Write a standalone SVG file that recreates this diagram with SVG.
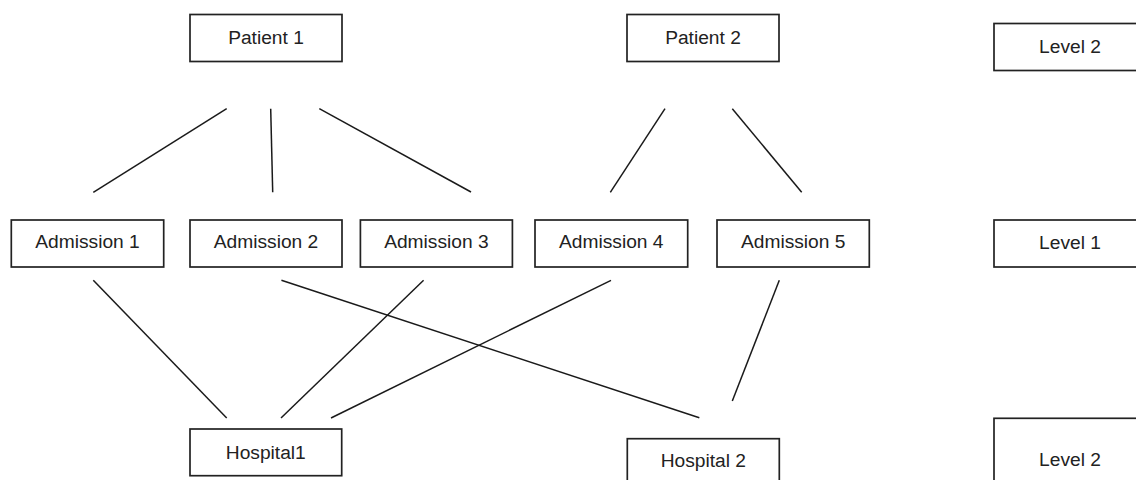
<svg xmlns="http://www.w3.org/2000/svg" width="1136" height="480" viewBox="0 0 1136 480">
<style>
.box{fill:#fff;stroke:#222;stroke-width:1.7}
.lbl{font-family:"Liberation Sans",Arial,sans-serif;font-size:19.2px;fill:#222;text-anchor:middle}
.edge{stroke:#1a1a1a;stroke-width:1.5;fill:none}
</style>
<rect width="1136" height="480" fill="#fff"/>
<g id="connectors">
<line class="edge" x1="226.7" y1="108.7" x2="93.3" y2="192.3"/>
<line class="edge" x1="270.7" y1="108.7" x2="272.7" y2="192.3"/>
<line class="edge" x1="319.3" y1="108.7" x2="471" y2="192"/>
<line class="edge" x1="665" y1="108.7" x2="610.3" y2="192.3"/>
<line class="edge" x1="732.3" y1="108.7" x2="801.7" y2="192.3"/>
<line class="edge" x1="93.3" y1="280.3" x2="226.7" y2="418"/>
<line class="edge" x1="281.4" y1="280.3" x2="699.3" y2="417.7"/>
<line class="edge" x1="423.6" y1="280.3" x2="281" y2="418"/>
<line class="edge" x1="611" y1="280.3" x2="331" y2="418"/>
<line class="edge" x1="779.3" y1="280.3" x2="732.3" y2="401"/>
</g>
<g id="patient1"><rect class="box" x="190" y="14.5" width="152" height="47"/><text class="lbl" x="266" y="43.7">Patient 1</text></g>
<g id="patient2"><rect class="box" x="627" y="14.5" width="152" height="47"/><text class="lbl" x="703" y="43.7">Patient 2</text></g>
<g id="level2top"><rect class="box" x="994" y="23.5" width="152" height="47"/><text class="lbl" x="1070" y="52.5">Level 2</text></g>
<g id="admission1"><rect class="box" x="11.3" y="220" width="152.4" height="47"/><text class="lbl" x="87.5" y="248">Admission 1</text></g>
<g id="admission2"><rect class="box" x="190" y="220" width="152" height="47"/><text class="lbl" x="266" y="248">Admission 2</text></g>
<g id="admission3"><rect class="box" x="360.4" y="220" width="152" height="47"/><text class="lbl" x="436.4" y="248">Admission 3</text></g>
<g id="admission4"><rect class="box" x="535" y="220" width="152.7" height="47"/><text class="lbl" x="611.3" y="248">Admission 4</text></g>
<g id="admission5"><rect class="box" x="717" y="220" width="152.3" height="47"/><text class="lbl" x="793.2" y="248">Admission 5</text></g>
<g id="level1"><rect class="box" x="994" y="220" width="152" height="47"/><text class="lbl" x="1070" y="248.5">Level 1</text></g>
<g id="hospital1"><rect class="box" x="190" y="429" width="151.7" height="46.7"/><text class="lbl" x="265.8" y="459.2">Hospital1</text></g>
<g id="hospital2"><rect class="box" x="627.3" y="438.7" width="152" height="47"/><text class="lbl" x="703.3" y="466.8">Hospital 2</text></g>
<g id="level2bottom"><rect class="box" x="994" y="418.3" width="152" height="70"/><text class="lbl" x="1070" y="466.2">Level 2</text></g>
</svg>
